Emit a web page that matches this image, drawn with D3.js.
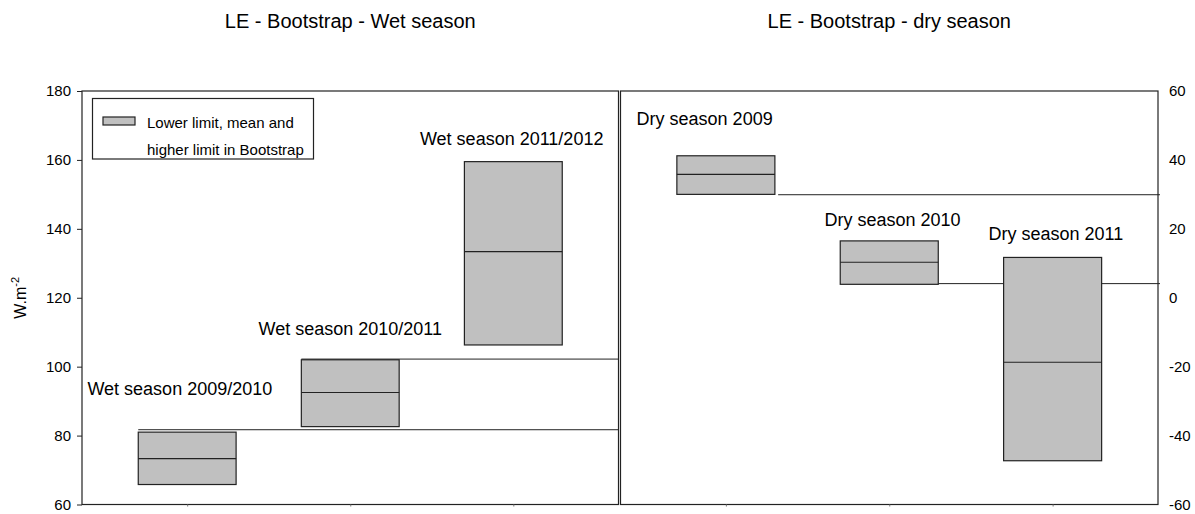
<!DOCTYPE html>
<html>
<head>
<meta charset="utf-8">
<script src="https://cdn.jsdelivr.net/npm/d3@7"></script>
<style>
  body { margin: 0; background: #fff; }
  svg { display: block; }
  text { font-family: "Liberation Sans", Arial, sans-serif; fill: #000; }
</style>
</head>
<body>
<svg id="chart" width="1195" height="514"></svg>
<script>
// ---- Wet season: bootstrap lower limit, mean and higher limit (W.m-2)
const wetSeasons = ["Wet season 2009/2010", "Wet season 2010/2011", "Wet season 2011/2012"];
const wetLower = [65.8, 82.6, 106.3];
const wetMean  = [73.3, 92.5, 133.4];
const wetUpper = [81.0, 102.0, 159.5];
const wetLevels = [81.7, 102.2];     // horizontal reference levels
const wetLevelFrom = [0.7, 1.7];     // season position where each level starts
const wetLabelX = [0.955, 2.0, 2.99];
const wetLabelY = [91.8, 109.2, 164.3];
const wetTicks = [60, 80, 100, 120, 140, 160, 180];

// ---- Dry season
const drySeasons = ["Dry season 2009", "Dry season 2010", "Dry season 2011"];
const dryLower = [30.0, 3.9, -47.3];
const dryMean  = [35.8, 10.3, -18.7];
const dryUpper = [41.2, 16.5, 11.7];
const dryLevels = [29.9, 4.1];
const dryLevelFrom = [1.32, 1.7];
const dryLabelX = [0.87, 2.02, 3.02];
const dryLabelY = [50.1, 20.8, 16.8];
const dryTicks = [-60, -40, -20, 0, 20, 40, 60];

const positions = [1, 2, 3];

const svg = d3.select("#chart");
const plotTop = 91, plotBottom = 504.5;
const ink = "#222";
const plain = d => String(d);   // ASCII hyphen for negative ticks

function panel(cfg) {
  const x = d3.scaleLinear().domain([0.355, 3.645]).range([cfg.left, cfg.right]);
  const y = d3.scaleLinear().domain(cfg.yDomain).range([plotBottom, plotTop]);
  const g = svg.append("g");

  // reference levels
  cfg.levels.forEach((v, i) => {
    g.append("line")
      .attr("x1", x(cfg.levelFrom[i])).attr("x2", cfg.levelEnd)
      .attr("y1", y(v)).attr("y2", y(v))
      .attr("stroke", ink).attr("stroke-width", 1);
  });

  // boxes: lower limit to higher limit, with mean line
  const half = 0.3;
  positions.forEach((p, i) => {
    g.append("rect")
      .attr("x", x(p - half)).attr("width", x(p + half) - x(p - half))
      .attr("y", y(cfg.upper[i])).attr("height", y(cfg.lower[i]) - y(cfg.upper[i]))
      .attr("fill", "#c0c0c0").attr("stroke", ink).attr("stroke-width", 1.2);
    g.append("line")
      .attr("x1", x(p - half)).attr("x2", x(p + half))
      .attr("y1", y(cfg.mean[i])).attr("y2", y(cfg.mean[i]))
      .attr("stroke", ink).attr("stroke-width", 1.1);
    g.append("text")
      .attr("x", x(cfg.labelX[i])).attr("y", y(cfg.labelY[i]))
      .attr("text-anchor", "middle").attr("font-size", 18)
      .text(cfg.names[i]);
  });

  // frame
  g.append("rect")
    .attr("x", cfg.left).attr("y", plotTop)
    .attr("width", cfg.right - cfg.left).attr("height", plotBottom - plotTop)
    .attr("fill", "none").attr("stroke", ink).attr("stroke-width", 1.2);

  // bottom category ticks
  const xa = g.append("g").attr("transform", `translate(0,${plotBottom})`)
    .call(d3.axisBottom(x).tickValues(positions).tickSize(2).tickFormat(""));
  xa.select(".domain").remove();
  xa.selectAll(".tick line").attr("stroke", "#777");

  return { x, y, g };
}

const wet = panel({
  left: 82, right: 618.5, levelEnd: 618.5, yDomain: [60, 180],
  lower: wetLower, mean: wetMean, upper: wetUpper,
  levels: wetLevels, levelFrom: wetLevelFrom,
  names: wetSeasons, labelX: wetLabelX, labelY: wetLabelY
});
const dry = panel({
  left: 620.5, right: 1158, levelEnd: 1160, yDomain: [-60, 60],
  lower: dryLower, mean: dryMean, upper: dryUpper,
  levels: dryLevels, levelFrom: dryLevelFrom,
  names: drySeasons, labelX: dryLabelX, labelY: dryLabelY
});

// left value axis
const ya = svg.append("g").attr("transform", "translate(82,0)")
  .call(d3.axisLeft(wet.y).tickValues(wetTicks).tickSize(5).tickPadding(6).tickFormat(plain));
ya.select(".domain").remove();
ya.selectAll(".tick line").attr("stroke", ink);
ya.selectAll("text").attr("font-size", 15).attr("font-family", "Liberation Sans, Arial, sans-serif").attr("fill", "#000");

// right value axis
const yb = svg.append("g").attr("transform", "translate(1158,0)")
  .call(d3.axisRight(dry.y).tickValues(dryTicks).tickSize(0).tickPadding(11).tickFormat(plain));
yb.select(".domain").remove();
yb.selectAll("text").attr("font-size", 15).attr("font-family", "Liberation Sans, Arial, sans-serif").attr("fill", "#000");

// titles
svg.append("text").attr("x", (82 + 618.5) / 2).attr("y", 28)
  .attr("text-anchor", "middle").attr("font-size", 20).text("LE - Bootstrap - Wet season");
svg.append("text").attr("x", (620.5 + 1158) / 2).attr("y", 28)
  .attr("text-anchor", "middle").attr("font-size", 20).text("LE - Bootstrap - dry season");

// y axis title
const yt = svg.append("text")
  .attr("transform", `translate(26,${(plotTop + plotBottom) / 2}) rotate(-90)`)
  .attr("text-anchor", "middle").attr("font-size", 16);
yt.append("tspan").text("W.m");
yt.append("tspan").attr("dy", -7).attr("font-size", 11).text("-2");

// legend
const lg = svg.append("g");
lg.append("rect").attr("x", 92.5).attr("y", 98.5).attr("width", 221).attr("height", 60.5)
  .attr("fill", "#fff").attr("stroke", ink).attr("stroke-width", 1.2);
lg.append("rect").attr("x", 103).attr("y", 117).attr("width", 32).attr("height", 8)
  .attr("fill", "#c0c0c0").attr("stroke", ink).attr("stroke-width", 1.2);
lg.append("text").attr("x", 147).attr("y", 127.5).attr("font-size", 15).text("Lower limit, mean and");
lg.append("text").attr("x", 147).attr("y", 154.5).attr("font-size", 15).text("higher limit in Bootstrap");
</script>
</body>
</html>
